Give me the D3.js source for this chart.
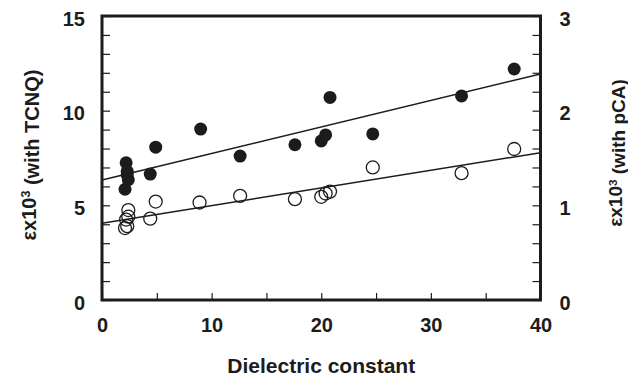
<!DOCTYPE html>
<html><head><meta charset="utf-8">
<script src="https://cdn.jsdelivr.net/npm/d3@7"></script>
<style>html,body{margin:0;padding:0;background:#fff;}</style>
</head><body>
<svg id="c" width="628" height="377"></svg>
<script>
// Data (filled = TCNQ, left axis; open = pCA, right axis)
const tcnqX = [2.1, 2.2, 2.3, 2.3, 2.4, 4.4, 4.9, 9.0, 12.6, 17.6, 20.0, 20.4, 20.8, 24.7, 32.8, 37.6];
const tcnqY = [5.85, 7.25, 6.8, 6.6, 6.35, 6.65, 8.07, 9.03, 7.6, 8.2, 8.4, 8.72, 10.7, 8.77, 10.78, 12.2];
const pcaX = [2.1, 2.3, 2.2, 2.4, 2.4, 4.4, 4.9, 8.9, 12.6, 17.6, 20.0, 20.4, 20.8, 24.7, 32.8, 37.6];
const pcaY = [0.76, 0.78, 0.85, 0.88, 0.95, 0.86, 1.04, 1.03, 1.10, 1.065, 1.09, 1.125, 1.145, 1.40, 1.34, 1.595];
const fitTCNQ = [[0, 6.34], [40, 11.94]];
const fitPCA = [[0, 0.81], [40, 1.556]];
const xTicks = [0, 5, 10, 15, 20, 25, 30, 35, 40];
const xLabels = [0, 10, 20, 30, 40];
const yLTicks = d3.range(0, 16, 1);
const yLLabels = [0, 5, 10, 15];
const yRTicks = d3.range(0, 16, 1).map(d => d / 5);
const yRLabels = [0, 1, 2, 3];

const svg = d3.select("#c");
const L = 102, R = 540.5, T = 16, B = 300;
const x = d3.scaleLinear([0, 40], [L, R]);
const yL = d3.scaleLinear([0, 15], [B, T]);
const yR = d3.scaleLinear([0, 3], [B, T]);
const font = "'Liberation Sans', Arial, Helvetica, sans-serif";
const ink = "#1c1c1c";

// axes
const gx = svg.append("g").attr("transform", `translate(0,${B})`)
  .call(d3.axisBottom(x).tickValues(xTicks).tickSizeInner(-7).tickSizeOuter(0).tickPadding(18)
    .tickFormat(d => xLabels.includes(d) ? d : ""));
const gl = svg.append("g").attr("transform", `translate(${L},0)`)
  .call(d3.axisLeft(yL).tickValues(yLTicks).tickSizeInner(-8).tickSizeOuter(0).tickPadding(17)
    .tickFormat(d => yLLabels.includes(d) ? d : ""));
const gr = svg.append("g").attr("transform", `translate(${R},0)`)
  .call(d3.axisRight(yR).tickValues(yRTicks).tickSizeInner(-8).tickSizeOuter(0).tickPadding(19)
    .tickFormat(d => yRLabels.some(v => Math.abs(v - d) < 1e-9) ? d3.format("d")(d) : ""));
[gx, gl, gr].forEach(g => {
  g.select(".domain").remove();
  g.selectAll(".tick line").attr("stroke", ink).attr("stroke-width", 1.2);
  g.selectAll(".tick text").attr("fill", ink).style("font-family", font)
    .style("font-size", "20px").style("font-weight", "bold");
});
gl.selectAll(".tick text").attr("dy", "0.45em");
gr.selectAll(".tick text").attr("dy", "0.45em");

// fit lines
const lineL = d3.line().x(d => x(d[0])).y(d => yL(d[1]));
const lineR = d3.line().x(d => x(d[0])).y(d => yR(d[1]));
svg.append("path").attr("d", lineL(fitTCNQ)).attr("stroke", ink).attr("stroke-width", 1.5).attr("fill", "none");
svg.append("path").attr("d", lineR(fitPCA)).attr("stroke", ink).attr("stroke-width", 1.5).attr("fill", "none");

// points
svg.append("g").selectAll("circle").data(tcnqX.map((v, i) => [v, tcnqY[i]])).join("circle")
  .attr("cx", d => x(d[0])).attr("cy", d => yL(d[1])).attr("r", 6.5).attr("fill", ink);
svg.append("g").selectAll("circle").data(pcaX.map((v, i) => [v, pcaY[i]])).join("circle")
  .attr("cx", d => x(d[0])).attr("cy", d => yR(d[1])).attr("r", 6.5)
  .attr("fill", "none").attr("stroke", ink).attr("stroke-width", 1.3);

// frame
svg.append("rect").attr("x", L).attr("y", T).attr("width", R - L).attr("height", B - T)
  .attr("fill", "none").attr("stroke", ink).attr("stroke-width", 3);

// titles
svg.append("text").attr("x", (L + R) / 2).attr("y", 373).attr("text-anchor", "middle")
  .attr("fill", ink).style("font-family", font).style("font-size", "21px").style("font-weight", "bold")
  .text("Dielectric constant");

function yTitle(cx, cy, size, rest) {
  const t = svg.append("text").attr("transform", `translate(${cx},${cy}) rotate(-90)`)
    .attr("text-anchor", "middle").attr("fill", ink)
    .style("font-family", font).style("font-size", size + "px").style("font-weight", "bold");
  t.append("tspan").text("\u03b5x10");
  t.append("tspan").attr("dy", "-0.45em").style("font-size", (size * 0.62) + "px").text("3");
  t.append("tspan").attr("dy", "0.45em").text(rest);
}
yTitle(36, 155, 20, " (with TCNQ)");
yTitle(622, 153, 19, " (with pCA)");
</script>
</body></html>
